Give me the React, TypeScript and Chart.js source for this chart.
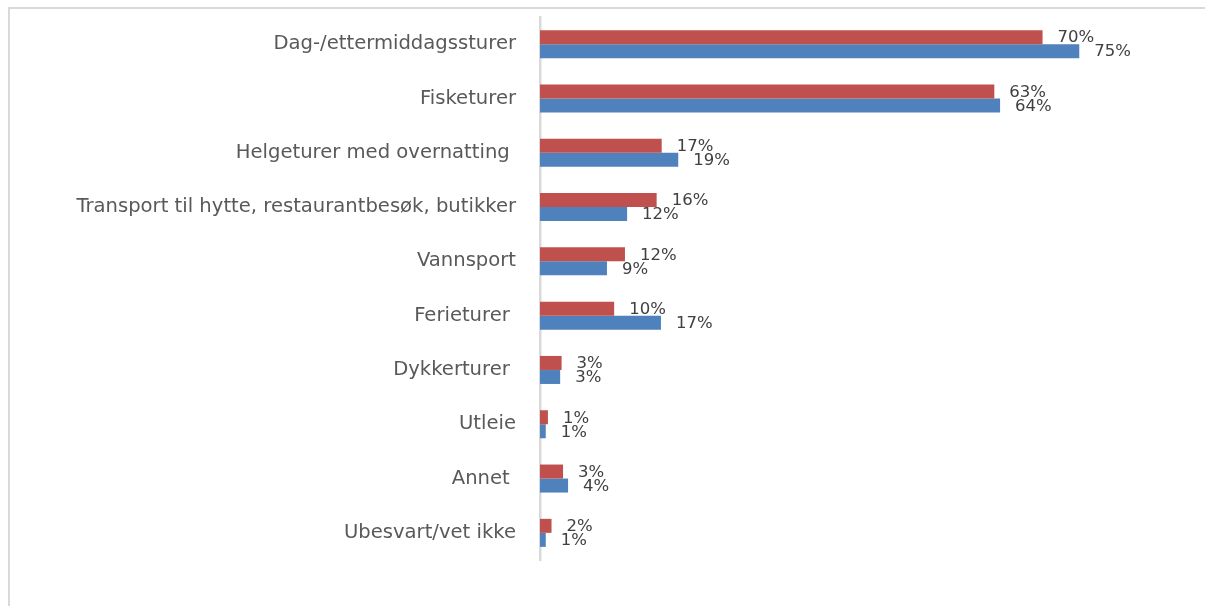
import React, { useEffect, useRef } from "react";
import { Chart, registerables } from "chart.js";

Chart.register(...registerables);

const categories = [
  "Dag-/ettermiddagssturer",
  "Fisketurer",
  "Helgeturer med overnatting ",
  "Transport til hytte, restaurantbesøk, butikker",
  "Vannsport",
  "Ferieturer ",
  "Dykkerturer ",
  "Utleie",
  "Annet ",
  "Ubesvart/vet ikke",
];

const redValues = [69.8, 63.1, 16.9, 16.2, 11.8, 10.3, 3.0, 1.1, 3.2, 1.6];
const blueValues = [74.9, 63.9, 19.2, 12.1, 9.3, 16.8, 2.8, 0.8, 3.9, 0.8];

const redColor = "#C0504D";
const blueColor = "#4F81BD";
const FONT = "'DejaVu Sans'";

const dataLabelPlugin = {
  id: "dataLabels",
  afterDatasetsDraw(chart: any) {
    const ctx = chart.ctx;
    ctx.save();
    ctx.font = "16.5px " + FONT;
    ctx.fillStyle = "#404040";
    ctx.textBaseline = "middle";
    ctx.textAlign = "left";
    chart.data.datasets.forEach((ds: any, di: number) => {
      const meta = chart.getDatasetMeta(di);
      meta.data.forEach((el: any, i: number) => {
        const v = ds.data[i];
        ctx.fillText(Math.round(v) + "%", el.x + 15, el.y + 1);
      });
    });
    ctx.restore();
  },
};

export default function App() {
  const ref = useRef<HTMLCanvasElement>(null);
  useEffect(() => {
    if (!ref.current) return;
    const chart = new Chart(ref.current, {
      type: "bar",
      data: {
        labels: categories,
        datasets: [
          { data: redValues, backgroundColor: redColor, borderWidth: 0, categoryPercentage: 0.516, barPercentage: 1 },
          { data: blueValues, backgroundColor: blueColor, borderWidth: 0, categoryPercentage: 0.516, barPercentage: 1 },
        ],
      },
      options: {
        indexAxis: "y",
        animation: false,
        responsive: false,
        events: [],
        layout: { padding: { top: 17, bottom: 46, right: 53, left: 0 } },
        plugins: { legend: { display: false }, tooltip: { enabled: false } },
        scales: {
          x: { display: false, min: 0, max: 85 },
          y: {
            grid: { display: false, drawTicks: false },
            border: { display: true, color: "#d9d9d9", width: 2.5 },
            ticks: {
              padding: 24,
              color: "#595959",
              font: { family: FONT, size: 19.6 },
            },
            afterFit(scale: any) {
              scale.width = 540;
              scale.paddingTop = 0;
              scale.paddingBottom = 0;
            },
          },
        },
      },
      plugins: [dataLabelPlugin],
    } as any);
    return () => chart.destroy();
  }, []);
  return (
    <div style={{ position: "absolute", left: 0, top: 0, width: 1205, height: 606, background: "#fff" }}>
      <div
        style={{
          position: "absolute",
          left: 8,
          top: 7,
          right: 0,
          bottom: 0,
          borderTop: "2px solid #d9d9d9",
          borderLeft: "2px solid #d9d9d9",
        }}
      />
      <canvas ref={ref} width={1205} height={606} style={{ position: "absolute", left: 0, top: 0 }} />
    </div>
  );
}
